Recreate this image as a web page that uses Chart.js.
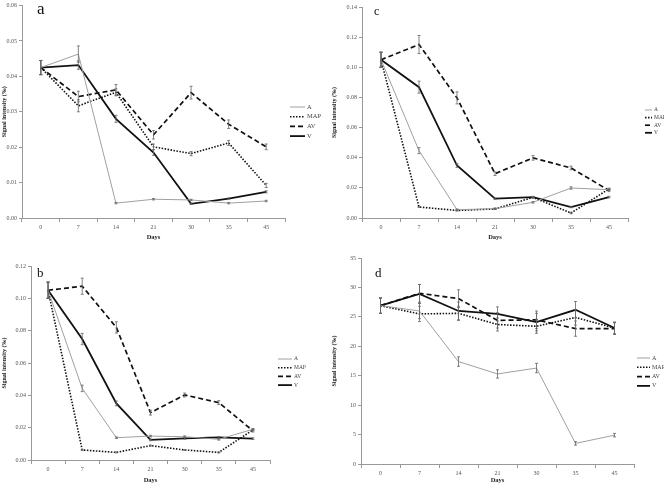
<!DOCTYPE html>
<html>
<head>
<meta charset="utf-8">
<script src="https://cdn.jsdelivr.net/npm/chart.js@4.4.1/dist/chart.umd.min.js"></script>
<style>
  body { margin: 0; background: #fff; width: 664px; height: 485px; overflow: hidden; position: relative; }
  canvas { position: absolute; }
  .tag { position: absolute; font-family: "Liberation Serif", serif; color: #111; line-height: 1; }
</style>
</head>
<body>
<canvas id="pa" width="330" height="242" style="left:0;top:0"></canvas>
<canvas id="pb" width="330" height="245" style="left:0;top:240px"></canvas>
<canvas id="pc" width="340" height="242" style="left:330px;top:0"></canvas>
<canvas id="pd" width="340" height="245" style="left:330px;top:240px"></canvas>
<div class="tag" style="left:37px;top:0px;font-size:17px">a</div>
<div class="tag" style="left:37px;top:266px;font-size:13px">b</div>
<div class="tag" style="left:374px;top:5px;font-size:12px">c</div>
<div class="tag" style="left:375px;top:266px;font-size:13px">d</div>
<script>
// categorias (dias)
const dias = ['0', '7', '14', '21', '30', '35', '45'];
const series = ['A', 'MAP', 'AV', 'V'];

// painel a
const aA   = [0.0425, 0.0463, 0.0042, 0.0053, 0.0051, 0.0042, 0.0048];
const aMAP = [0.0425, 0.0317, 0.0355, 0.0201, 0.0182, 0.0212, 0.0092];
const aAV  = [0.0425, 0.0343, 0.0362, 0.0235, 0.0354, 0.0265, 0.0201];
const aV   = [0.0425, 0.0432, 0.0280, 0.0185, 0.0040, 0.0055, 0.0074];
const aErrA   = [0.002, 0.0023, 0.0002, 0.0002, 0.0002, 0.0002, 0.0002];
const aErrMAP = [0.002, 0.0017, 0.0010, 0.0008, 0.0006, 0.0007, 0.0006];
const aErrAV  = [0.002, 0.0015, 0.0015, 0.0012, 0.0018, 0.0012, 0.0008];
const aErrV   = [0.002, 0.0012, 0.0010, 0.0008, 0.0002, 0.0002, 0.0003];

// painel b
const bA   = [0.105, 0.0443, 0.0138, 0.0148, 0.0144, 0.0128, 0.0190];
const bMAP = [0.105, 0.0062, 0.0047, 0.0089, 0.0062, 0.0047, 0.0186];
const bAV  = [0.105, 0.1075, 0.0820, 0.0293, 0.0402, 0.0355, 0.0181];
const bV   = [0.105, 0.0748, 0.0350, 0.0124, 0.0134, 0.0140, 0.0132];
const bErrA   = [0.005, 0.002, 0.0005, 0.0005, 0.0005, 0.0005, 0.0005];
const bErrMAP = [0.005, 0.0003, 0.0003, 0.0003, 0.0003, 0.0003, 0.0005];
const bErrAV  = [0.005, 0.005, 0.0035, 0.0015, 0.0012, 0.0012, 0.0008];
const bErrV   = [0.005, 0.0035, 0.0015, 0.0005, 0.0005, 0.0005, 0.0005];

// painel c
const cA   = [0.105, 0.0447, 0.0055, 0.0062, 0.0104, 0.0199, 0.0188];
const cMAP = [0.105, 0.0073, 0.0050, 0.0060, 0.0137, 0.0033, 0.0193];
const cAV  = [0.105, 0.1151, 0.0797, 0.0294, 0.0399, 0.0332, 0.0183];
const cV   = [0.105, 0.0868, 0.0348, 0.0128, 0.0139, 0.0073, 0.0139];
const cErrA   = [0.005, 0.002, 0.0005, 0.0005, 0.0005, 0.0008, 0.0005];
const cErrMAP = [0.005, 0.0003, 0.0003, 0.0003, 0.0005, 0.0005, 0.0005];
const cErrAV  = [0.005, 0.006, 0.004, 0.0012, 0.0015, 0.0012, 0.0008];
const cErrV   = [0.005, 0.004, 0.0012, 0.0005, 0.0005, 0.0005, 0.0005];

// painel d
const dA   = [26.9, 26.0, 17.4, 15.3, 16.3, 3.5, 4.9];
const dMAP = [26.9, 25.5, 25.6, 23.7, 23.4, 24.9, 23.1];
const dAV  = [26.9, 29.0, 28.1, 24.4, 24.5, 23.0, 23.0];
const dV   = [26.9, 28.9, 26.0, 25.5, 24.1, 26.2, 23.1];
const dErrA   = [1.3, 1.3, 0.8, 0.7, 0.8, 0.3, 0.3];
const dErrMAP = [1.3, 1.3, 1.2, 1.1, 1.2, 1.3, 1.0];
const dErrAV  = [1.3, 1.5, 1.5, 1.3, 1.5, 1.3, 1.0];
const dErrV   = [1.3, 1.6, 1.5, 1.2, 1.5, 1.4, 1.0];

const FONTE = '"Liberation Serif"';

// estilos das linhas
const estilos = [
  { borderColor: '#a0a0a0', borderWidth: 1, borderDash: [] },
  { borderColor: '#111', borderWidth: 1.6, borderDash: [1.5, 1.5] },
  { borderColor: '#111', borderWidth: 1.7, borderDash: [5, 3] },
  { borderColor: '#111', borderWidth: 1.8, borderDash: [] }
];

// barras de erro
const barrasErro = {
  id: 'barrasErro',
  afterDatasetsDraw(chart) {
    const ctx = chart.ctx;
    const y = chart.scales.y;
    ctx.save();
    ctx.strokeStyle = '#666';
    ctx.lineWidth = 0.8;
    chart.data.datasets.forEach((ds, i) => {
      chart.getDatasetMeta(i).data.forEach((pt, j) => {
        const e = ds.erros[j];
        const t = y.getPixelForValue(ds.data[j] + e);
        const b = y.getPixelForValue(ds.data[j] - e);
        ctx.beginPath();
        ctx.moveTo(pt.x, t); ctx.lineTo(pt.x, b);
        ctx.moveTo(pt.x - 1.5, t); ctx.lineTo(pt.x + 1.5, t);
        ctx.moveTo(pt.x - 1.5, b); ctx.lineTo(pt.x + 1.5, b);
        ctx.stroke();
      });
    });
    ctx.restore();
  }
};

// legenda ao lado
const legendaLado = {
  id: 'legendaLado',
  afterDraw(chart, args, o) {
    const ctx = chart.ctx;
    ctx.save();
    ctx.font = o.size + 'px ' + FONTE;
    ctx.textBaseline = 'middle';
    chart.data.datasets.forEach((ds, i) => {
      const y = o.y + i * o.gap;
      ctx.strokeStyle = ds.borderColor;
      ctx.lineWidth = ds.borderWidth;
      ctx.setLineDash(ds.borderDash);
      ctx.beginPath();
      ctx.moveTo(o.x, y); ctx.lineTo(o.x + o.len, y);
      ctx.stroke();
      ctx.setLineDash([]);
      ctx.fillStyle = '#444';
      ctx.fillText(ds.label, o.x + o.len + 2, y);
    });
    ctx.restore();
  }
};

function criarGrafico(id, dados, erros, yMax, passo, decimais, layout, legenda) {
  new Chart(document.getElementById(id), {
    type: 'line',
    data: {
      labels: dias,
      datasets: dados.map((d, i) => Object.assign({
        label: series[i],
        data: d,
        erros: erros[i],
        pointRadius: 0,
        tension: 0,
        fill: false
      }, estilos[i]))
    },
    options: {
      responsive: false,
      animation: false,
      devicePixelRatio: 1,
      layout: { padding: layout.padding },
      plugins: {
        legend: { display: false },
        tooltip: { enabled: false },
        legendaLado: legenda
      },
      scales: {
        x: {
          offset: true,
          grid: { offset: true, drawOnChartArea: false, tickLength: 4, color: '#999' },
          border: { color: '#999' },
          ticks: { font: { family: FONTE, size: 6 }, color: '#555', padding: 2, maxRotation: 0 },
          title: { display: true, text: 'Days', font: { family: FONTE, size: 6.5, weight: 'bold' }, color: '#222', padding: 1 },
          afterFit(s) { s.height = layout.xh; }
        },
        y: {
          min: 0, max: yMax,
          grid: { drawOnChartArea: false, tickLength: 3, color: '#999' },
          border: { color: '#999' },
          ticks: {
            stepSize: passo, font: { family: FONTE, size: 6 }, color: '#555', padding: 2,
            callback: v => v.toFixed(decimais)
          },
          title: { display: true, text: 'Signal intensity (‰)', font: { family: FONTE, size: 6, weight: 'bold' }, color: '#222', padding: 1 },
          afterFit(s) { s.width = layout.yw; }
        }
      }
    },
    plugins: [barrasErro, legendaLado]
  });
}

criarGrafico('pa', [aA, aMAP, aAV, aV], [aErrA, aErrMAP, aErrAV, aErrV], 0.06, 0.01, 2,
  { padding: { top: 2, right: 45, left: 0, bottom: 0 }, yw: 22, xh: 24 },
  { x: 290, y: 107, gap: 9.7, len: 15, size: 6.5 });

criarGrafico('pb', [bA, bMAP, bAV, bV], [bErrA, bErrMAP, bErrAV, bErrV], 0.12, 0.02, 2,
  { padding: { top: 26, right: 60, left: 0, bottom: 0 }, yw: 31, xh: 25 },
  { x: 278, y: 119, gap: 8.7, len: 14, size: 5.5 });

criarGrafico('pc', [cA, cMAP, cAV, cV], [cErrA, cErrMAP, cErrAV, cErrV], 0.14, 0.02, 2,
  { padding: { top: 7, right: 42, left: 0, bottom: 0 }, yw: 32, xh: 24 },
  { x: 315, y: 110, gap: 7.6, len: 7, size: 5.5 });

criarGrafico('pd', [dA, dMAP, dAV, dV], [dErrA, dErrMAP, dErrAV, dErrV], 35, 5, 0,
  { padding: { top: 18, right: 36, left: 0, bottom: 0 }, yw: 31, xh: 21 },
  { x: 307, y: 118, gap: 9.3, len: 13, size: 6 });
</script>
</body>
</html>
